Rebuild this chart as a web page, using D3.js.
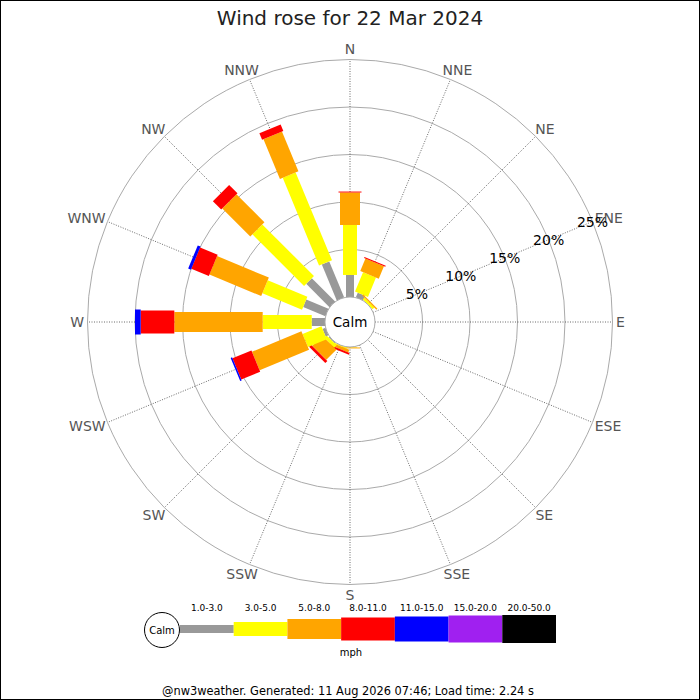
<!DOCTYPE html>
<html>
<head>
<meta charset="utf-8">
<script src="https://cdn.jsdelivr.net/npm/d3@7"></script>
<style>
  body { margin: 0; background: #fff; }
  text { font-family: 'DejaVu Sans', sans-serif; }
</style>
</head>
<body>
<div id="rose"></div>
<script>
// datos (porcentaje de tiempo por direccion y rango de velocidad)
var directions = ['N', 'NNE', 'NE', 'ENE', 'E', 'ESE', 'SE', 'SSE', 'S', 'SSW', 'SW', 'WSW', 'W', 'WNW', 'NW', 'NNW']
var speedBins = ['1.0-3.0', '3.0-5.0', '5.0-8.0', '8.0-11.0', '11.0-15.0', '15.0-20.0', '20.0-50.0']
var pct1to3 = [2.32, 0.53, 0, 0, 0, 0, 0, 0, 0, 0, 0.1, 0.32, 1.4, 2.53, 3.47, 4.1]
var pct3to5 = [5.26, 2.21, 0.25, 0, 0, 0, 0, 0, 0.05, 0.1, 0.35, 2.15, 5.16, 4.52, 7.69, 10.0]
var pct5to8 = [3.42, 1.42, 0.15, 0, 0, 0, 0, 0, 0.1, 0.3, 1.5, 5.63, 9.3, 5.9, 4.17, 4.53]
var pct8to11 = [0.1, 0.12, 0, 0, 0, 0, 0, 0, 0, 0.2, 0.3, 2.16, 3.54, 2.0, 1.24, 0.74]
var pct11to15 = [0, 0, 0, 0, 0, 0, 0, 0, 0, 0, 0, 0.16, 0.6, 0.31, 0, 0]
var pct15to20 = [0, 0, 0, 0, 0, 0, 0, 0, 0, 0, 0, 0, 0, 0, 0, 0]
var pct20to50 = [0, 0, 0, 0, 0, 0, 0, 0, 0, 0, 0, 0, 0, 0, 0, 0]
var ringTicks = [5, 10, 15, 20, 25]
var titleText = 'Wind rose for 22 Mar 2024'
var footerText = '@nw3weather. Generated: 11 Aug 2026 07:46; Load time: 2.24 s'

var series = [pct1to3, pct3to5, pct5to8, pct8to11, pct11to15, pct15to20, pct20to50]
var binColors = ['#999999', '#ffff00', '#ffa500', '#ff0000', '#0000ff', '#a020f0', '#000000']
var binWidths = [8, 14, 20, 23, 25, 27, 28] //ancho de cada tramo en px

var width = 700
var height = 700
var cx = 350
var cy = 322
var calmR = 25
var outerR = 262.5

var svg = d3
  .select('#rose')
  .append('svg')
  .attr('width', width)
  .attr('height', height)

//borde del grafico
svg
  .append('rect')
  .attr('x', 0.5)
  .attr('y', 0.5)
  .attr('width', width - 1)
  .attr('height', height - 1)
  .attr('fill', '#fff')
  .attr('stroke', '#000')

svg
  .append('text')
  .attr('x', width / 2)
  .attr('y', 25)
  .attr('text-anchor', 'middle')
  .style('font-size', '20px')
  .attr('fill', '#222')
  .text(titleText)

var rScale = d3.scaleLinear().domain([0, 25]).range([calmR, outerR])
var angle = d3
  .scalePoint()
  .domain(directions)
  .range([0, 360 - 360 / directions.length])

function polar(deg, r) {
  var a = (deg * Math.PI) / 180
  return [cx + r * Math.sin(a), cy - r * Math.cos(a)]
}

var g = svg.append('g')

//anillos
g.selectAll('circle.ring')
  .data(ringTicks)
  .enter()
  .append('circle')
  .attr('class', 'ring')
  .attr('cx', cx)
  .attr('cy', cy)
  .attr('r', (d) => rScale(d))
  .attr('fill', 'none')
  .attr('stroke', '#aaa')
  .attr('stroke-width', 1)

//radios punteados
g.selectAll('line.spoke')
  .data(directions)
  .enter()
  .append('line')
  .attr('class', 'spoke')
  .attr('x1', (d) => polar(angle(d), calmR)[0])
  .attr('y1', (d) => polar(angle(d), calmR)[1])
  .attr('x2', (d) => polar(angle(d), outerR)[0])
  .attr('y2', (d) => polar(angle(d), outerR)[1])
  .attr('stroke', '#444')
  .attr('stroke-width', 0.8)
  .attr('stroke-dasharray', '1,1.5')

//etiquetas de direccion: la caja del texto se aparta del anillo exterior
var labelSize = 14
g.selectAll('text.dir')
  .data(directions)
  .enter()
  .append('text')
  .attr('class', 'dir')
  .attr('text-anchor', 'middle')
  .attr('dominant-baseline', 'central')
  .attr('fill', '#555')
  .style('font-size', labelSize + 'px')
  .text((d) => d)
  .each(function (d) {
    var w = this.getComputedTextLength()
    var a = (angle(d) * Math.PI) / 180
    var p = polar(angle(d), 266)
    d3.select(this)
      .attr('x', p[0] + (w / 2) * Math.sin(a))
      .attr('y', p[1] - (labelSize / 2) * Math.cos(a))
  })

//barras apiladas
var segments = []
directions.forEach((dir, i) => {
  var acc = 0
  series.forEach((s, j) => {
    if (s[i] > 0) {
      segments.push({ dir: dir, bin: j, from: acc, to: acc + s[i] })
    }
    acc += s[i]
  })
})

g.selectAll('rect.seg')
  .data(segments)
  .enter()
  .append('rect')
  .attr('class', 'seg')
  .attr('x', (d) => cx - binWidths[d.bin] / 2)
  .attr('y', (d) => cy - rScale(d.to))
  .attr('width', (d) => binWidths[d.bin])
  .attr('height', (d) => rScale(d.to) - rScale(d.from))
  .attr('fill', (d) => binColors[d.bin])
  .attr('transform', (d) => 'rotate(' + angle(d.dir) + ',' + cx + ',' + cy + ')')

//circulo de calma
g.append('circle')
  .attr('cx', cx)
  .attr('cy', cy)
  .attr('r', calmR)
  .attr('fill', '#fff')
  .attr('stroke', '#aaa')

g.append('text')
  .attr('x', cx)
  .attr('y', cy)
  .attr('text-anchor', 'middle')
  .attr('dominant-baseline', 'central')
  .style('font-size', '13.5px')
  .text('Calm')

//etiquetas de porcentaje sobre el radio ENE
g.selectAll('text.pct')
  .data(ringTicks)
  .enter()
  .append('text')
  .attr('class', 'pct')
  .attr('x', (d) => polar(angle('ENE'), rScale(d))[0])
  .attr('y', (d) => polar(angle('ENE'), rScale(d))[1])
  .attr('text-anchor', 'middle')
  .attr('dominant-baseline', 'central')
  .style('font-size', '14px')
  .text((d) => d + '%')

//leyenda
var legX = d3.scaleBand().domain(speedBins).range([180, 556])
var legY = 629

svg
  .append('g')
  .selectAll('rect')
  .data(speedBins)
  .enter()
  .append('rect')
  .attr('x', (d) => legX(d))
  .attr('y', (d, i) => legY - binWidths[i] / 2)
  .attr('width', legX.bandwidth())
  .attr('height', (d, i) => binWidths[i])
  .attr('fill', (d, i) => binColors[i])

svg
  .append('g')
  .selectAll('text')
  .data(speedBins)
  .enter()
  .append('text')
  .attr('x', (d) => legX(d) + legX.bandwidth() / 2)
  .attr('y', 611)
  .attr('text-anchor', 'middle')
  .style('font-size', '9px')
  .text((d) => d)

svg
  .append('circle')
  .attr('cx', 162)
  .attr('cy', 630)
  .attr('r', 17.5)
  .attr('fill', '#fff')
  .attr('stroke', '#000')

svg
  .append('text')
  .attr('x', 162)
  .attr('y', 630)
  .attr('text-anchor', 'middle')
  .attr('dominant-baseline', 'central')
  .style('font-size', '10px')
  .text('Calm')

svg
  .append('text')
  .attr('x', 351)
  .attr('y', 656)
  .attr('text-anchor', 'middle')
  .style('font-size', '10px')
  .text('mph')

svg
  .append('text')
  .attr('x', 348)
  .attr('y', 695)
  .attr('text-anchor', 'middle')
  .style('font-size', '11.4px')
  .text(footerText)
</script>
</body>
</html>
